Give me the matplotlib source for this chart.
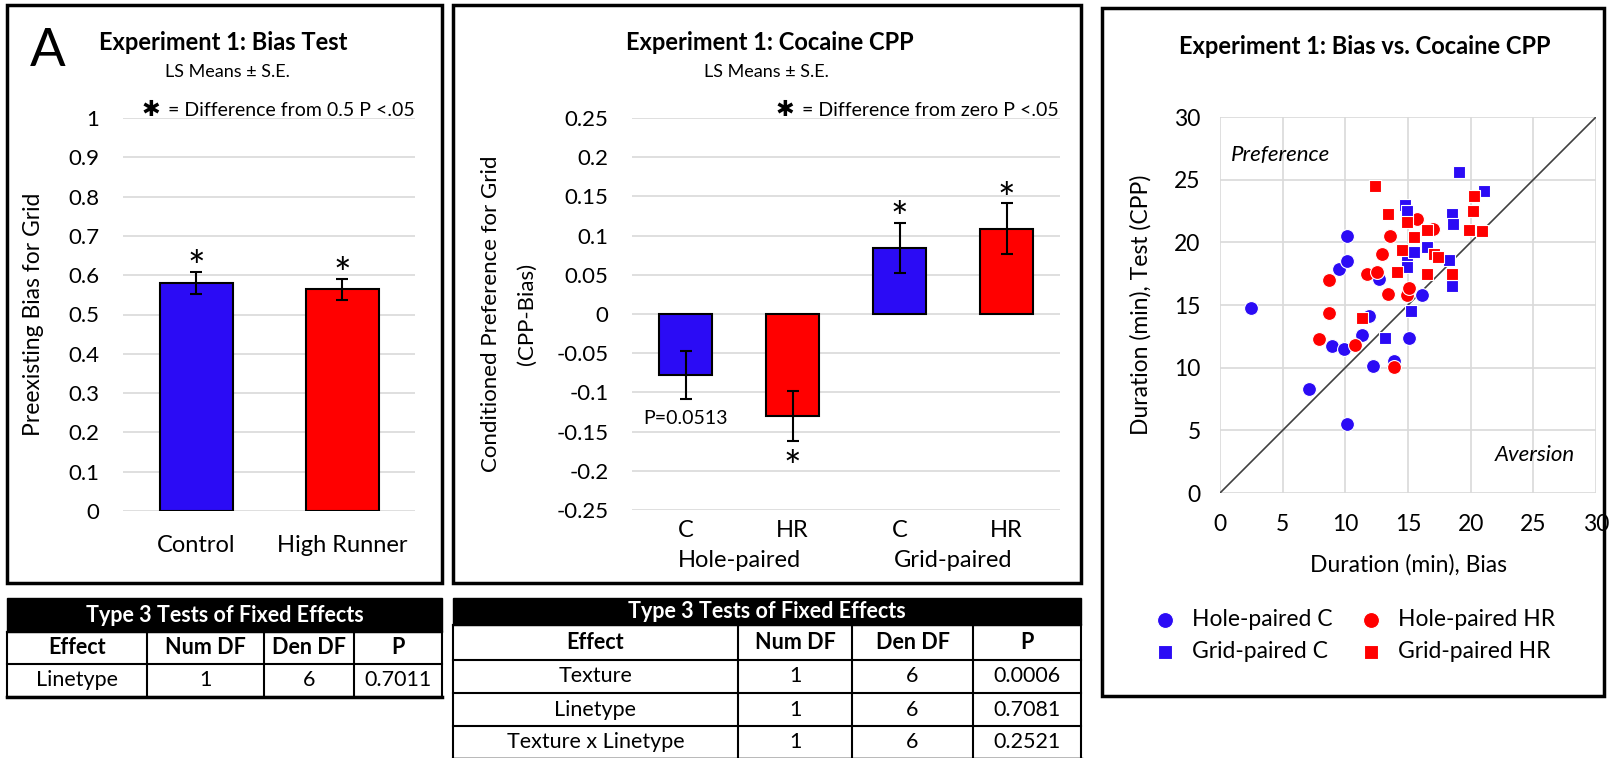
import matplotlib
matplotlib.use("Agg")
import matplotlib.pyplot as plt
from matplotlib.patches import Rectangle
import numpy as np

plt.rcParams['font.family'] = ['Lato', 'DejaVu Sans']

BLUE = '#2B0BF5'
RED = '#FF0000'
GRID = '#D9D9D9'

# bias test (panel 1)
bias_groups = ['Control', 'High Runner']
bias_mean = [0.580, 0.564]
bias_se = [0.028, 0.027]

# cocaine CPP (panel 2)
cpp_groups = ['C', 'HR', 'C', 'HR']
cpp_pairing = ['Hole-paired', 'Grid-paired']
cpp_mean = [-0.078, -0.130, 0.084, 0.109]
cpp_se = [0.031, 0.032, 0.032, 0.032]
cpp_star = [False, True, True, True]

# bias vs CPP scatter (minutes)
hole_c_bias = [2.5, 7.1, 10.1, 8.9, 9.9, 11.3, 12.2, 13.9, 15.1, 16.1, 9.5, 10.15, 10.15, 12.7, 11.9]
hole_c_cpp = [14.8, 8.3, 5.5, 11.7, 11.5, 12.6, 10.15, 10.5, 12.4, 15.8, 17.9, 18.5, 20.5, 17.1, 14.1]
hole_hr_bias = [7.9, 8.7, 8.7, 10.8, 11.7, 12.5, 12.9, 13.4, 13.55, 13.9, 14.9, 15.1, 15.7, 17.0]
hole_hr_cpp = [12.3, 14.4, 17.0, 11.8, 17.5, 17.6, 19.1, 15.9, 20.5, 10.05, 15.8, 16.35, 21.9, 21.1]
grid_c_bias = [13.15, 15.25, 14.8, 14.9, 14.9, 14.9, 16.5, 18.3, 18.5, 18.5, 18.6, 19.1, 21.1, 15.5]
grid_c_cpp = [12.4, 14.5, 23.0, 22.5, 18.9, 18.0, 19.6, 18.6, 16.5, 22.3, 21.5, 25.6, 24.1, 19.2]
grid_hr_bias = [11.3, 12.4, 13.4, 14.1, 14.5, 14.9, 15.5, 16.5, 16.5, 17.1, 17.4, 18.5, 19.9, 20.2, 20.3, 20.9]
grid_hr_cpp = [14.0, 24.5, 22.3, 17.6, 19.35, 21.6, 20.4, 21.0, 17.5, 19.1, 18.8, 17.5, 21.0, 22.5, 23.7, 20.9]

# tables
tab_cols = ['Effect', 'Num DF', 'Den DF', 'P']
tab1_rows = [['Linetype', '1', '6', '0.7011']]
tab2_rows = [['Texture', '1', '6', '0.0006'],
             ['Linetype', '1', '6', '0.7081'],
             ['Texture x Linetype', '1', '6', '0.2521']]

W, H = 1612, 758
fig = plt.figure(figsize=(W / 100, H / 100), dpi=100)


def axes_px(x0, y0, x1, y1):
    return fig.add_axes([x0 / W, 1 - y1 / H, (x1 - x0) / W, (y1 - y0) / H])


def clean(ax):
    for s in ax.spines.values():
        s.set_visible(False)
    ax.set_axisbelow(True)
    ax.tick_params(length=0, labelsize=16)


def star(ax, x, y, up=True):
    # asterisk placed a few points away from the error bar end
    off = 2 if up else -20
    ax.annotate('*', (x, y), xytext=(0, off), textcoords='offset points',
                ha='center', va='center', fontsize=30)


err = dict(ecolor='black', elinewidth=1.5, capsize=4, capthick=1.5)

# ---- panel 1
ax1 = axes_px(123, 118, 415, 511)
clean(ax1)
ax1.yaxis.grid(True, color=GRID, lw=1.2)
ax1.bar(range(2), bias_mean, width=0.5, color=[BLUE, RED], edgecolor='black',
        lw=1.5, yerr=bias_se, error_kw=err)
ax1.set_xlim(-0.5, 1.5)
ax1.set_ylim(0, 1)
yt = np.round(np.arange(0, 1.01, 0.1), 1)
ax1.set_yticks(yt, [f'{v:g}' for v in yt])
ax1.set_xticks(range(2), bias_groups, fontsize=17)
ax1.tick_params(axis='y', pad=17)
ax1.tick_params(axis='x', pad=17)
for i in range(2):
    star(ax1, i, bias_mean[i] + bias_se[i])

# ---- panel 2
ax2 = axes_px(632, 118, 1060, 510)
clean(ax2)
ax2.yaxis.grid(True, color=GRID, lw=1.2)
ax2.bar(range(4), cpp_mean, width=0.5, color=[BLUE, RED, BLUE, RED], edgecolor='black',
        lw=1.5, yerr=cpp_se, error_kw=err)
ax2.set_xlim(-0.5, 3.5)
ax2.set_ylim(-0.25, 0.25)
yt2 = np.round(np.arange(-0.25, 0.251, 0.05), 2)
ax2.set_yticks(yt2, [f'{v + 0:g}' for v in yt2])
ax2.set_xticks(range(4), cpp_groups, fontsize=17)
ax2.tick_params(axis='y', pad=17)
ax2.tick_params(axis='x', pad=7)
for i in range(4):
    if cpp_star[i]:
        if cpp_mean[i] > 0:
            star(ax2, i, cpp_mean[i] + cpp_se[i])
        else:
            star(ax2, i, cpp_mean[i] - cpp_se[i], up=False)
ax2.text(0, -0.133, 'P=0.0513', ha='center', va='center', fontsize=14)
for j, lab in enumerate(cpp_pairing):
    ax2.text(2 * j + 0.5, -0.13, lab, ha='center', va='center', fontsize=17,
             transform=ax2.get_xaxis_transform())

# ---- panel 3
ax3 = axes_px(1220, 117, 1596, 493)
clean(ax3)
ax3.grid(True, color=GRID, lw=1.2)
ax3.set_xlim(0, 30)
ax3.set_ylim(0, 30)
ax3.set_xticks(range(0, 31, 5))
ax3.set_yticks(range(0, 31, 5))
ax3.tick_params(labelsize=16.5)
ax3.tick_params(axis='y', pad=14)
ax3.tick_params(axis='x', pad=15)
ax3.plot([0, 30], [0, 30], color='#404040', lw=1.2, zorder=2)
h1 = ax3.scatter(hole_c_bias, hole_c_cpp, s=100, marker='o', color=BLUE, edgecolor='white', lw=0.8, zorder=3)
h2 = ax3.scatter(hole_hr_bias, hole_hr_cpp, s=100, marker='o', color=RED, edgecolor='white', lw=0.8, zorder=4)
h3 = ax3.scatter(grid_c_bias, grid_c_cpp, s=85, marker='s', color=BLUE, edgecolor='white', lw=0.8, zorder=5)
h4 = ax3.scatter(grid_hr_bias, grid_hr_cpp, s=85, marker='s', color=RED, edgecolor='white', lw=0.8, zorder=6)
ax3.set_xlabel('Duration (min), Bias', fontsize=16.5, labelpad=14)
ax3.set_ylabel('Duration (min), Test (CPP)', fontsize=16.5, labelpad=16)
ax3.text(0.03, 0.9, 'Preference', style='italic', fontsize=16, transform=ax3.transAxes,
         ha='left', va='center')
ax3.text(0.945, 0.1, 'Aversion', style='italic', fontsize=16, transform=ax3.transAxes,
         ha='right', va='center')

# ---- overlay in pixel coordinates: boxes, titles, tables
ov = fig.add_axes([0, 0, 1, 1])
ov.set_xlim(0, W)
ov.set_ylim(H, 0)
ov.axis('off')

leg = ax3.legend([h1, h3, h2, h4],
                 ['Hole-paired C', 'Grid-paired C', 'Hole-paired HR', 'Grid-paired HR'],
                 ncol=2, loc='upper left', bbox_to_anchor=(1154, 609),
                 bbox_transform=ov.transData, frameon=False, fontsize=16.5,
                 handlelength=1.0, handletextpad=0.65, columnspacing=1.2, labelspacing=0.5,
                 borderaxespad=0, borderpad=0, markerscale=1.15)

for x0, y0, x1, y1 in [(7, 5, 442, 583), (453, 5, 1081, 583), (1102, 8, 1604, 696)]:
    ov.add_patch(Rectangle((x0, y0), x1 - x0, y1 - y0, fill=False, lw=2.5, ec='black'))


def note(x, y, s):
    t = ov.text(x, y, s, fontsize=14, ha='right', va='center')
    ov.annotate('✱ ', xy=(0, 0.5), xycoords=t, ha='right', va='center',
                fontsize=16, family='DejaVu Sans')


ov.text(30, 51, 'A', fontsize=38, ha='left', va='center')
ov.text(223, 43, 'Experiment 1: Bias Test', weight='bold', fontsize=17, ha='center', va='center')
ov.text(227, 72, 'LS Means ± S.E.', fontsize=13, ha='center', va='center')
note(415, 110, '= Difference from 0.5 P <.05')
ov.text(34, 314, 'Preexisting Bias for Grid', fontsize=16.5, rotation=90, ha='center', va='center')

ov.text(770, 43, 'Experiment 1: Cocaine CPP', weight='bold', fontsize=17, ha='center', va='center')
ov.text(766, 72, 'LS Means ± S.E.', fontsize=13, ha='center', va='center')
note(1059, 110, '= Difference from zero P <.05')
ov.text(491, 314, 'Conditioned Preference for Grid', fontsize=16, rotation=90, ha='center', va='center')
ov.text(527, 314, '(CPP-Bias)', fontsize=16, rotation=90, ha='center', va='center')

ov.text(1365, 46, 'Experiment 1: Bias vs. Cocaine CPP', weight='bold', fontsize=17, ha='center', va='center')


def draw_table(xe, ye, cols, rows):
    ov.add_patch(Rectangle((xe[0], ye[0]), xe[-1] - xe[0], ye[1] - ye[0], color='black'))
    ov.text((xe[0] + xe[-1]) / 2, (ye[0] + ye[1]) / 2, 'Type 3 Tests of Fixed Effects',
            color='white', weight='bold', fontsize=15.5, ha='center', va='center')
    for y in ye[1:]:
        ov.plot([xe[0], xe[-1]], [y, y], color='black', lw=1.5)
    for x in xe:
        ov.plot([x, x], [ye[1], ye[-1]], color='black', lw=1.5)
    ov.plot([xe[0], xe[-1]], [ye[-1], ye[-1]], color='black', lw=2.5)
    for k, c in enumerate(cols):
        ov.text((xe[k] + xe[k + 1]) / 2, (ye[1] + ye[2]) / 2, c, weight='bold',
                fontsize=15.5, ha='center', va='center')
    for r, row in enumerate(rows):
        for k, c in enumerate(row):
            ov.text((xe[k] + xe[k + 1]) / 2, (ye[r + 2] + ye[r + 3]) / 2, c,
                    fontsize=15.5, ha='center', va='center')


draw_table([7, 147, 264, 354, 442], [598, 632, 664, 697], tab_cols, tab1_rows)
draw_table([453, 738, 852, 973, 1081], [598, 625, 660, 693, 726, 759], tab_cols, tab2_rows)

fig.savefig('out.png', dpi=100)
